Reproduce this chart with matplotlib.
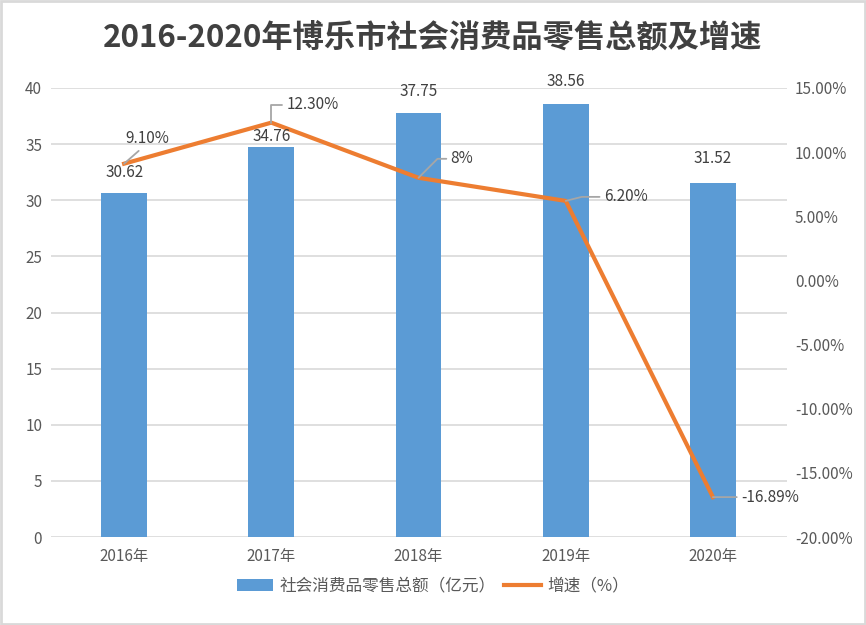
import matplotlib
matplotlib.use('Agg')
import matplotlib.pyplot as plt
from matplotlib.patches import Rectangle
from matplotlib.ticker import FuncFormatter

plt.rcParams['font.family'] = ['Noto Sans CJK SC', 'DejaVu Sans']

years = ['2016年', '2017年', '2018年', '2019年', '2020年']
sales = [30.62, 34.76, 37.75, 38.56, 31.52]
growth = [9.10, 12.30, 8.0, 6.20, -16.89]
growth_labels = ['9.10%', '12.30%', '8%', '6.20%', '-16.89%']

blue = '#5B9BD5'
orange = '#ED7D31'
txt = '#595959'

fig = plt.figure(figsize=(8.66, 6.25), dpi=100)
ax = fig.add_axes([50.5/866, 1-537/625, 736/866, 449/625])
ax2 = ax.twinx()

x = range(len(years))
bars = ax.bar(x, sales, width=0.31, color=blue, zorder=2, label='社会消费品零售总额（亿元）')
ax.set_ylim(0, 40)
ax.set_xlim(-0.5, 4.5)
ax.set_yticks(range(0, 41, 5))
ax.grid(axis='y', color='#d9d9d9', lw=1.2, zorder=0)
ax.set_axisbelow(True)
ax.set_xticks(list(x))
ax.set_xticklabels(years)

ax2.plot(x, growth, color=orange, lw=3, zorder=3, label='增速（%）')
ax2.set_ylim(-20, 15)
ax2.set_yticks(range(-20, 16, 5))
ax2.yaxis.set_major_formatter(FuncFormatter(lambda v, p: f'{v:.2f}%'))

# bar value labels (2017 one pushed down to clear the line)
bar_offs = [21, 10, 22, 23, 25]
for i, v in enumerate(sales):
    ax2.annotate(f'{v:.2f}', (i, v), xycoords=ax.transData, xytext=(0, bar_offs[i]),
                 textcoords='offset pixels', ha='center', va='center',
                 fontsize=11, color='#404040', zorder=5)

# growth label offsets (pixels) and leader styles
offs = [(1, 25), (15, 18), (32, 19), (38, 4), (28, 0)]
conns = [None, 'angle,angleA=0,angleB=90,rad=0', 'angle,angleA=0,angleB=45,rad=0',
         'angle,angleA=0,angleB=14,rad=0', None]
for i, (v, lab) in enumerate(zip(growth, growth_labels)):
    ap = dict(arrowstyle='-', color='#a6a6a6', lw=1.3, shrinkA=1, shrinkB=0)
    if i == 0:
        ap['relpos'] = (0.45, 0.1)
    else:
        ap['relpos'] = (0, 0.5)
    if conns[i]:
        ap['connectionstyle'] = conns[i]
    ax2.annotate(lab, (i, v), xytext=offs[i], textcoords='offset pixels',
                 ha='left', va='center', fontsize=11, color='#404040', arrowprops=ap)

for a in (ax, ax2):
    for s in a.spines.values():
        s.set_visible(False)
    a.tick_params(length=0, labelsize=11, colors=txt)
ax.tick_params(axis='x', pad=8)
ax.tick_params(axis='y', pad=6)
ax2.tick_params(axis='y', pad=6)

fig.suptitle('2016-2020年博乐市社会消费品零售总额及增速', y=1-38/625, va='center',
             fontsize=22.5, fontweight='bold', color='#404040')

h1, l1 = ax.get_legend_handles_labels()
h2, l2 = ax2.get_legend_handles_labels()
fig.legend(h1 + h2, l1 + l2, loc='center', bbox_to_anchor=(0.5, 1-586/625), ncol=2,
           frameon=False, fontsize=12, labelcolor=txt, handlelength=2.2,
           columnspacing=0.5, handletextpad=0.4)

fig.patches.append(Rectangle((0.001, 0.001), 0.998, 0.997, transform=fig.transFigure,
                             fill=False, edgecolor='#d9d9d9', lw=2))

fig.savefig('out.png', dpi=100)
